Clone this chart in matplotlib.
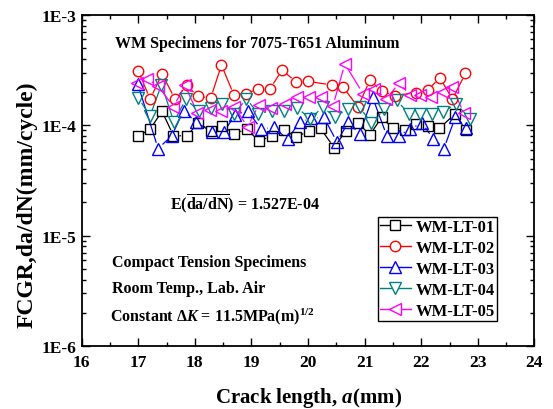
import numpy as np
import matplotlib
matplotlib.use('Agg')
import matplotlib.pyplot as plt
from matplotlib.lines import Line2D
from matplotlib.collections import LineCollection
from matplotlib.ticker import LogLocator, NullFormatter, FixedLocator, FuncFormatter, MultipleLocator

plt.rcParams['font.family'] = 'Liberation Serif'
plt.rcParams['font.weight'] = 'bold'
plt.rcParams['mathtext.fontset'] = 'custom'
plt.rcParams['mathtext.rm'] = 'Liberation Serif:bold'
plt.rcParams['mathtext.it'] = 'Liberation Serif:bold:italic'
plt.rcParams['mathtext.bf'] = 'Liberation Serif:bold'

# crack length (mm) and da/dN (mm/cycle)
lt01_x = [16.99, 17.21, 17.42, 17.62, 17.86, 18.05, 18.28, 18.48, 18.70, 18.92, 19.13, 19.36, 19.57, 19.79,
          20.01, 20.22, 20.46, 20.67, 20.88, 21.09, 21.30, 21.50, 21.72, 21.90, 22.11, 22.32, 22.59, 22.79]
lt01_y = [7.92e-5, 9.25e-5, 1.34e-4, 8.08e-5, 8.00e-5, 1.05e-4, 8.97e-5, 9.86e-5, 8.42e-5, 9.25e-5,
          7.21e-5, 8.00e-5, 9.12e-5, 7.83e-5, 8.87e-5, 9.36e-5, 6.29e-5, 8.97e-5, 1.06e-4, 8.17e-5,
          1.18e-4, 9.40e-5, 9.15e-5, 1.03e-4, 9.92e-5, 9.40e-5, 1.26e-4, 9.15e-5]

lt02_x = [17.0, 17.21, 17.42, 17.65, 17.86, 18.05, 18.28, 18.47, 18.69, 18.90, 19.12, 19.33, 19.54,
          19.79, 20.0, 20.42, 20.62, 20.88, 21.09, 21.30, 21.53, 21.91, 22.11, 22.33, 22.55, 22.78]
lt02_y = [3.11e-4, 1.73e-4, 2.92e-4, 1.73e-4, 2.30e-4, 1.83e-4, 1.77e-4, 3.52e-4, 1.88e-4, 1.92e-4,
          2.15e-4, 2.15e-4, 3.17e-4, 2.47e-4, 2.50e-4, 2.32e-4, 2.22e-4, 1.47e-4, 2.55e-4, 2.05e-4,
          1.86e-4, 1.98e-4, 2.09e-4, 2.69e-4, 1.73e-4, 2.95e-4]

lt03_x = [16.99, 17.35, 17.59, 17.80, 18.02, 18.30, 18.51, 18.71, 18.93, 19.17, 19.39, 19.64, 19.85,
          20.06, 20.28, 20.51, 20.71, 20.91, 21.14, 21.39, 21.60, 21.80, 22.01, 22.21, 22.40, 22.60, 22.79]
lt03_y = [2.37e-4, 6.16e-5, 8.00e-5, 1.36e-4, 1.07e-4, 8.72e-5, 8.72e-5, 1.24e-4, 1.36e-4, 9.25e-5,
          9.56e-5, 7.51e-5, 1.07e-4, 1.16e-4, 1.18e-4, 7.06e-5, 1.07e-4, 8.34e-5, 1.79e-4, 8.06e-5,
          8.06e-5, 9.25e-5, 1.05e-4, 7.59e-5, 6.16e-5, 1.18e-4, 9.46e-5]

lt04_x = [17.0, 17.21, 17.41, 17.63, 17.84, 18.07, 18.28, 18.48, 18.70, 18.91, 19.12, 19.36, 19.58, 19.81,
          20.03, 20.26, 20.47, 20.70, 20.91, 21.12, 21.35, 21.57, 21.78, 21.98, 22.19, 22.39, 22.62, 22.86]
lt04_y = [1.77e-4, 1.22e-4, 2.34e-4, 1.07e-4, 1.73e-4, 1.35e-4, 1.45e-4, 1.56e-4, 1.27e-4, 1.75e-4,
          1.27e-4, 1.36e-4, 1.36e-4, 1.45e-4, 1.14e-4, 1.46e-4, 1.19e-4, 1.41e-4, 1.46e-4, 1.05e-4,
          1.40e-4, 1.68e-4, 1.27e-4, 1.26e-4, 1.27e-4, 1.33e-4, 1.56e-4, 1.15e-4]

lt05_x = [16.97, 17.15, 17.35, 17.62, 17.83, 18.04, 18.26, 18.46, 18.70, 18.93, 19.13, 19.35, 19.59, 19.80,
          20.02, 20.22, 20.44, 20.65, 20.97, 21.17, 21.38, 21.61, 21.80, 21.98, 22.18, 22.39, 22.55, 22.75]
lt05_y = [2.42e-4, 2.65e-4, 2.27e-4, 1.48e-4, 2.30e-4, 1.30e-4, 1.38e-4, 1.35e-4, 1.46e-4, 9.70e-5,
          1.53e-4, 1.45e-4, 1.57e-4, 1.80e-4, 1.80e-4, 1.80e-4, 1.51e-4, 3.60e-4, 1.94e-4, 2.13e-4,
          1.73e-4, 2.42e-4, 1.88e-4, 1.88e-4, 1.80e-4, 1.99e-4, 2.21e-4, 1.29e-4]

labels = ['WM-LT-01', 'WM-LT-02', 'WM-LT-03', 'WM-LT-04', 'WM-LT-05']
xs = [lt01_x, lt02_x, lt03_x, lt04_x, lt05_x]
ys = [lt01_y, lt02_y, lt03_y, lt04_y, lt05_y]
colors = ['#000000', '#ff0000', '#0000ff', '#008080', '#ff00ff']
markers = ['s', 'o', '^', 'v', '<']
msizes = [7, 7.5, 8.5, 8.5, 8.5]

fig = plt.figure(figsize=(5.53, 4.10), dpi=100)
ax = fig.add_axes([0.1477, 0.1537, 0.8188, 0.8073])
ax.set_xlim(16, 24)
ax.set_yscale('log')
ax.set_ylim(1e-6, 1e-3)

# markers (hollow)
for x, y, c, m, s in zip(xs, ys, colors, markers, msizes):
    ax.plot(x, y, ls='none', marker=m, ms=s, mfc='none', mec=c, mew=1.0, zorder=3)

# connecting lines, stopped short of each symbol like Origin does
gap = 6.0
for x, y, c in zip(xs, ys, colors):
    pts = ax.transData.transform(np.column_stack([x, y]))
    segs = []
    for p0, p1 in zip(pts[:-1], pts[1:]):
        d = p1 - p0
        n = np.hypot(*d)
        if n <= 2 * gap:
            continue
        u = d / n
        a = ax.transData.inverted().transform(p0 + u * gap)
        b = ax.transData.inverted().transform(p1 - u * gap)
        segs.append([a, b])
    ax.add_collection(LineCollection(segs, colors=c, linewidths=0.9, zorder=2))

# axes styling
ax.xaxis.set_major_locator(MultipleLocator(1))
ax.xaxis.set_minor_locator(MultipleLocator(0.5))
ax.yaxis.set_major_locator(FixedLocator([1e-6, 1e-5, 1e-4, 1e-3]))
ax.yaxis.set_major_formatter(FuncFormatter(lambda v, p: '1E%d' % round(np.log10(v))))
ax.yaxis.set_minor_locator(LogLocator(base=10, subs=np.arange(2, 10)))
ax.yaxis.set_minor_formatter(NullFormatter())
ax.tick_params(which='both', direction='in', top=True, right=True, width=1.0, labelsize=12.5)
ax.tick_params(which='major', length=6)
ax.tick_params(which='minor', length=3)
ax.tick_params(axis='x', pad=6)
for sp in ax.spines.values():
    sp.set_linewidth(1.3)

ax.set_xlabel('Crack length, $\\mathit{a}$(mm)', fontsize=15, fontweight='bold')
ax.set_ylabel('FCGR,da/dN(mm/cycle)', fontsize=17, fontweight='bold')
ax.xaxis.set_label_coords(0.5, -0.118)
ax.yaxis.set_label_coords(-0.097, 0.43)

# annotations
tkw = dict(transform=ax.transAxes, fontsize=11.5, fontweight='bold', ha='left', va='center')
ax.text(0.0736, 0.915, 'WM Specimens for 7075-T651 Aluminum', **tkw)
ax.text(0.195, 0.432, '$\\mathrm{E(\\overline{da/dN})}$ = 1.527E-04', **tkw)
ax.text(0.067, 0.253, 'Compact Tension Specimens', **tkw)
ax.text(0.067, 0.174, 'Room Temp., Lab. Air', **tkw)
ax.text(0.062, 0.0915, 'Constant $\\mathit{\u0394K}$ = 11.5MPa(m)$^{\\mathrm{1/2}}$', **tkw)

# legend with symbols covering the line
handles = [Line2D([], [], color=c, lw=1.0, marker=m, ms=s, mfc='white', mec=c, mew=1.0)
           for c, m, s in zip(colors, markers, msizes)]
leg = ax.legend(handles, labels, loc='upper left', bbox_to_anchor=(0.654, 0.39), borderaxespad=0,
                numpoints=1, handlelength=1.85, handletextpad=0.3, labelspacing=0.3, borderpad=0.12,
                fancybox=False, framealpha=1, edgecolor='black', prop={'weight': 'bold', 'size': 12})
leg.get_frame().set_linewidth(1.0)

fig.savefig('out.png', dpi=100)
